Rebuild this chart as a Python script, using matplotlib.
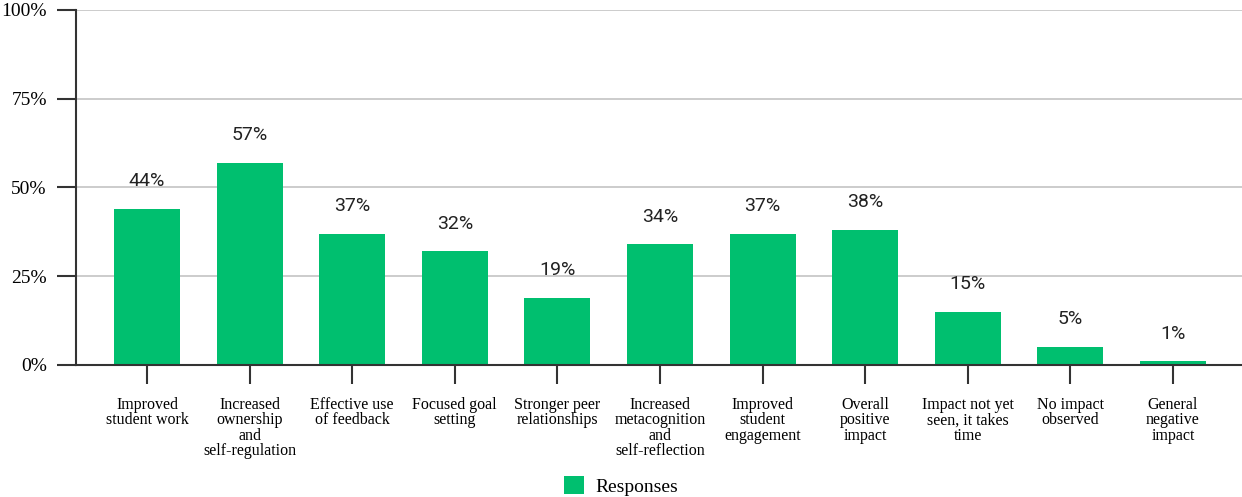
import matplotlib.pyplot as plt
from matplotlib.ticker import FuncFormatter

categories = [
    "Improved\nstudent work",
    "Increased\nownership\nand\nself-regulation",
    "Effective use\nof feedback",
    "Focused goal\nsetting",
    "Stronger peer\nrelationships",
    "Increased\nmetacognition\nand\nself-reflection",
    "Improved\nstudent\nengagement",
    "Overall\npositive\nimpact",
    "Impact not yet\nseen, it takes\ntime",
    "No impact\nobserved",
    "General\nnegative\nimpact",
]
responses = [44, 57, 37, 32, 19, 34, 37, 38, 15, 5, 1]
yticks = [0, 25, 50, 75, 100]

green = "#00bf6f"
serif = ["Liberation Serif", "DejaVu Serif"]
sans = ["Roboto", "DejaVu Sans"]

fig = plt.figure(figsize=(12.42, 4.97), dpi=100)
ax = fig.add_axes([0.0612, 0.2656, 0.9388, 0.7143])

x = range(len(categories))
bars = ax.bar(x, responses, width=0.643, color=green, label="Responses", zorder=3)

for rect, v in zip(bars, responses):
    ax.annotate(f"{v}%", (rect.get_x() + rect.get_width() / 2, v),
                xytext=(0, 20), textcoords="offset points",
                ha="center", va="center", fontsize=14, family=sans,
                color="#222222")

ax.set_xlim(-0.692, 10.673)
ax.set_ylim(0, 100)
ax.set_yticks(yticks)
ax.yaxis.set_major_formatter(FuncFormatter(lambda v, _: f"{v:.0f}%"))
ax.set_xticks(list(x))
ax.set_xticklabels(categories, family=serif, fontsize=11.5, linespacing=0.95)
for lab in ax.get_yticklabels():
    lab.set_family(serif)
    lab.set_fontsize(14)

ax.tick_params(axis="y", length=14, width=1.5, pad=7, color="#333333")
ax.tick_params(axis="x", length=14, width=1.5, pad=9, color="#333333")
ax.grid(axis="y", color="#cccccc", linewidth=1.4, zorder=0)
for side in ("top", "right"):
    ax.spines[side].set_visible(False)
for side in ("left", "bottom"):
    ax.spines[side].set_color("#333333")
    ax.spines[side].set_linewidth(1.5)
ax.spines["bottom"].set_zorder(4)

fig.legend(handles=[bars], labels=["Responses"], loc="center",
           bbox_to_anchor=(0.5, 0.022), frameon=False,
           prop={"family": serif, "size": 14},
           handlelength=1.0, handleheight=1.0, handletextpad=0.6)

fig.savefig("out.png", dpi=100)
